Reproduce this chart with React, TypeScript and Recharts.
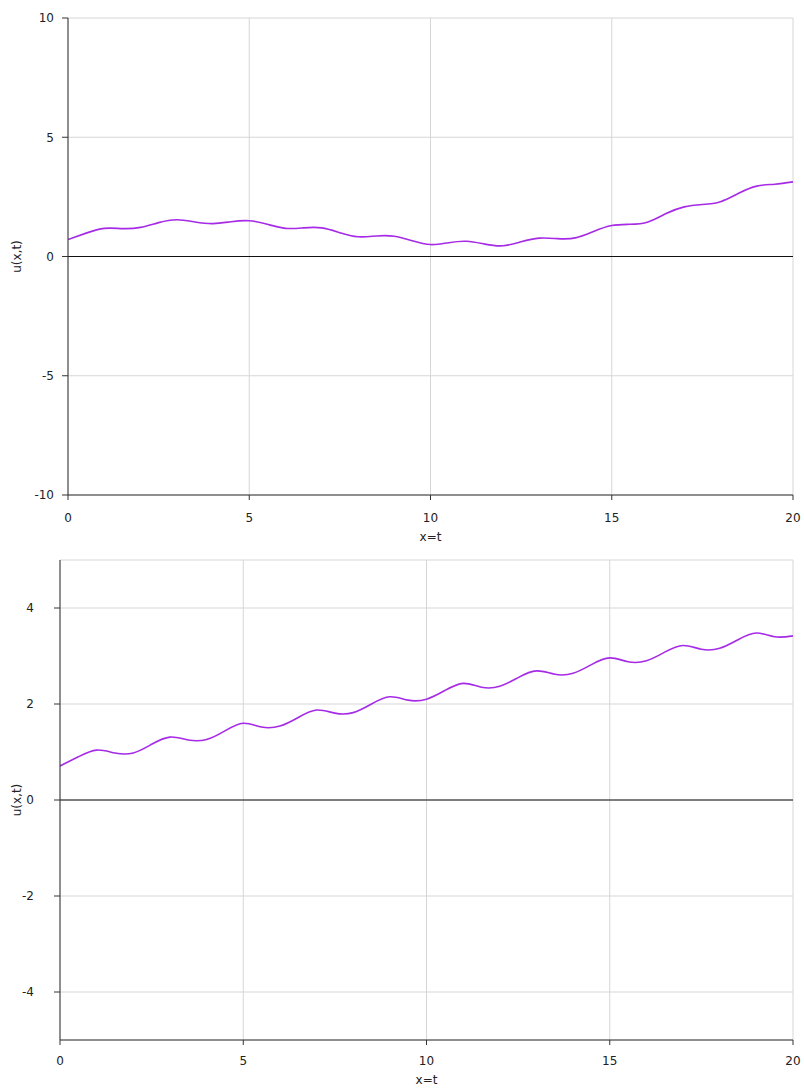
import React from "react";
import { LineChart, Line, XAxis, YAxis, CartesianGrid, ReferenceLine } from "recharts";

// sample positions x = t
const xs = [
  0, 0.5, 1, 1.5, 2, 2.5, 3, 3.5, 4, 4.5, 5, 5.5, 6, 6.5, 7, 7.5, 8, 8.5, 9, 9.5, 10,
  10.5, 11, 11.5, 12, 12.5, 13, 13.5, 14, 14.5, 15, 15.5, 16, 16.5, 17, 17.5, 18, 18.5, 19, 19.5, 20,
];

// upper panel u(x,t)
const topValues = [
  0.71, 0.98, 1.18, 1.17, 1.22, 1.42, 1.54, 1.45, 1.38, 1.46, 1.5, 1.35, 1.18, 1.2, 1.2, 1.0, 0.83,
  0.86, 0.85, 0.66, 0.5, 0.58, 0.64, 0.52, 0.45, 0.62, 0.77, 0.75, 0.78, 1.05, 1.3, 1.35, 1.45, 1.8,
  2.08, 2.18, 2.3, 2.65, 2.95, 3.03, 3.13,
];

// lower panel u(x,t)
const bottomValues = [
  0.71, 0.9, 1.04, 0.98, 0.98, 1.16, 1.31, 1.25, 1.26, 1.44, 1.6, 1.52, 1.54, 1.72, 1.875, 1.81, 1.82,
  2.0, 2.15, 2.08, 2.1, 2.28, 2.43, 2.35, 2.37, 2.55, 2.69, 2.62, 2.64, 2.82, 2.96, 2.88, 2.9, 3.08,
  3.22, 3.14, 3.16, 3.34, 3.48, 3.4, 3.42,
];

const xTicks = [0, 5, 10, 15, 20];
const topYTicks = [-10, -5, 0, 5, 10];
const bottomYTicks = [-4, -2, 0, 2, 4];

const topData = xs.map((x, i) => ({ x, u: topValues[i] }));
const bottomData = xs.map((x, i) => ({ x, u: bottomValues[i] }));

const FONT = "'DejaVu Sans', Verdana, sans-serif";
const tickStyle = { fontSize: 12, fill: "#222", fontFamily: FONT };
const AXIS = "#333";
const GRID = "#d6d6d6";
const LINE = "#a62ae6";

function YLabel({ viewBox }: any) {
  const cy = viewBox.y + viewBox.height / 2;
  return (
    <text
      x={21}
      y={cy}
      transform={`rotate(-90, 21, ${cy})`}
      textAnchor="middle"
      fontSize={12}
      fontFamily={FONT}
      fill="#222"
    >
      u(x,t)
    </text>
  );
}

function Panel({
  data,
  yDomain,
  yTicks,
  width,
  height,
  margin,
  yWidth,
  yTickMargin,
  xHeight,
  xTickMargin,
  labelOffset,
}: any) {
  return (
    <LineChart width={width} height={height} data={data} margin={margin}>
      <CartesianGrid stroke={GRID} strokeWidth={1} />
      <XAxis
        dataKey="x"
        type="number"
        domain={[0, 20]}
        ticks={xTicks}
        allowDataOverflow
        height={xHeight}
        stroke={AXIS}
        tick={tickStyle}
        tickSize={5}
        tickMargin={xTickMargin}
        label={{
          value: "x=t",
          position: "insideBottom",
          offset: labelOffset,
          style: { fontSize: 12, fill: "#222", fontFamily: FONT },
        }}
      />
      <YAxis
        type="number"
        domain={yDomain}
        ticks={yTicks}
        allowDataOverflow
        width={yWidth}
        stroke={AXIS}
        tick={tickStyle}
        tickSize={6}
        tickMargin={yTickMargin}
        label={<YLabel />}
      />
      <ReferenceLine y={0} stroke="#111" strokeWidth={1} />
      <Line
        type="natural"
        dataKey="u"
        stroke={LINE}
        strokeWidth={1.6}
        dot={false}
        isAnimationActive={false}
      />
    </LineChart>
  );
}

export default function App() {
  return (
    <div style={{ position: "absolute", left: 0, top: 0, width: 804, height: 1088, background: "#fff", overflow: "hidden" }}>
      <div style={{ position: "absolute", left: 0, top: 0 }}>
        <Panel
          data={topData}
          yDomain={[-10, 10]}
          yTicks={topYTicks}
          width={804}
          height={548}
          margin={{ top: 18, right: 11, left: 8, bottom: 3 }}
          yWidth={60}
          yTickMargin={8}
          xHeight={50}
          xTickMargin={13}
          labelOffset={4}
        />
      </div>
      <div style={{ position: "absolute", left: 0, top: 548 }}>
        <Panel
          data={bottomData}
          yDomain={[-5, 5]}
          yTicks={bottomYTicks}
          width={804}
          height={540}
          margin={{ top: 12, right: 11, left: 8, bottom: 4 }}
          yWidth={52}
          yTickMargin={20}
          xHeight={44}
          xTickMargin={11}
          labelOffset={0}
        />
      </div>
    </div>
  );
}
